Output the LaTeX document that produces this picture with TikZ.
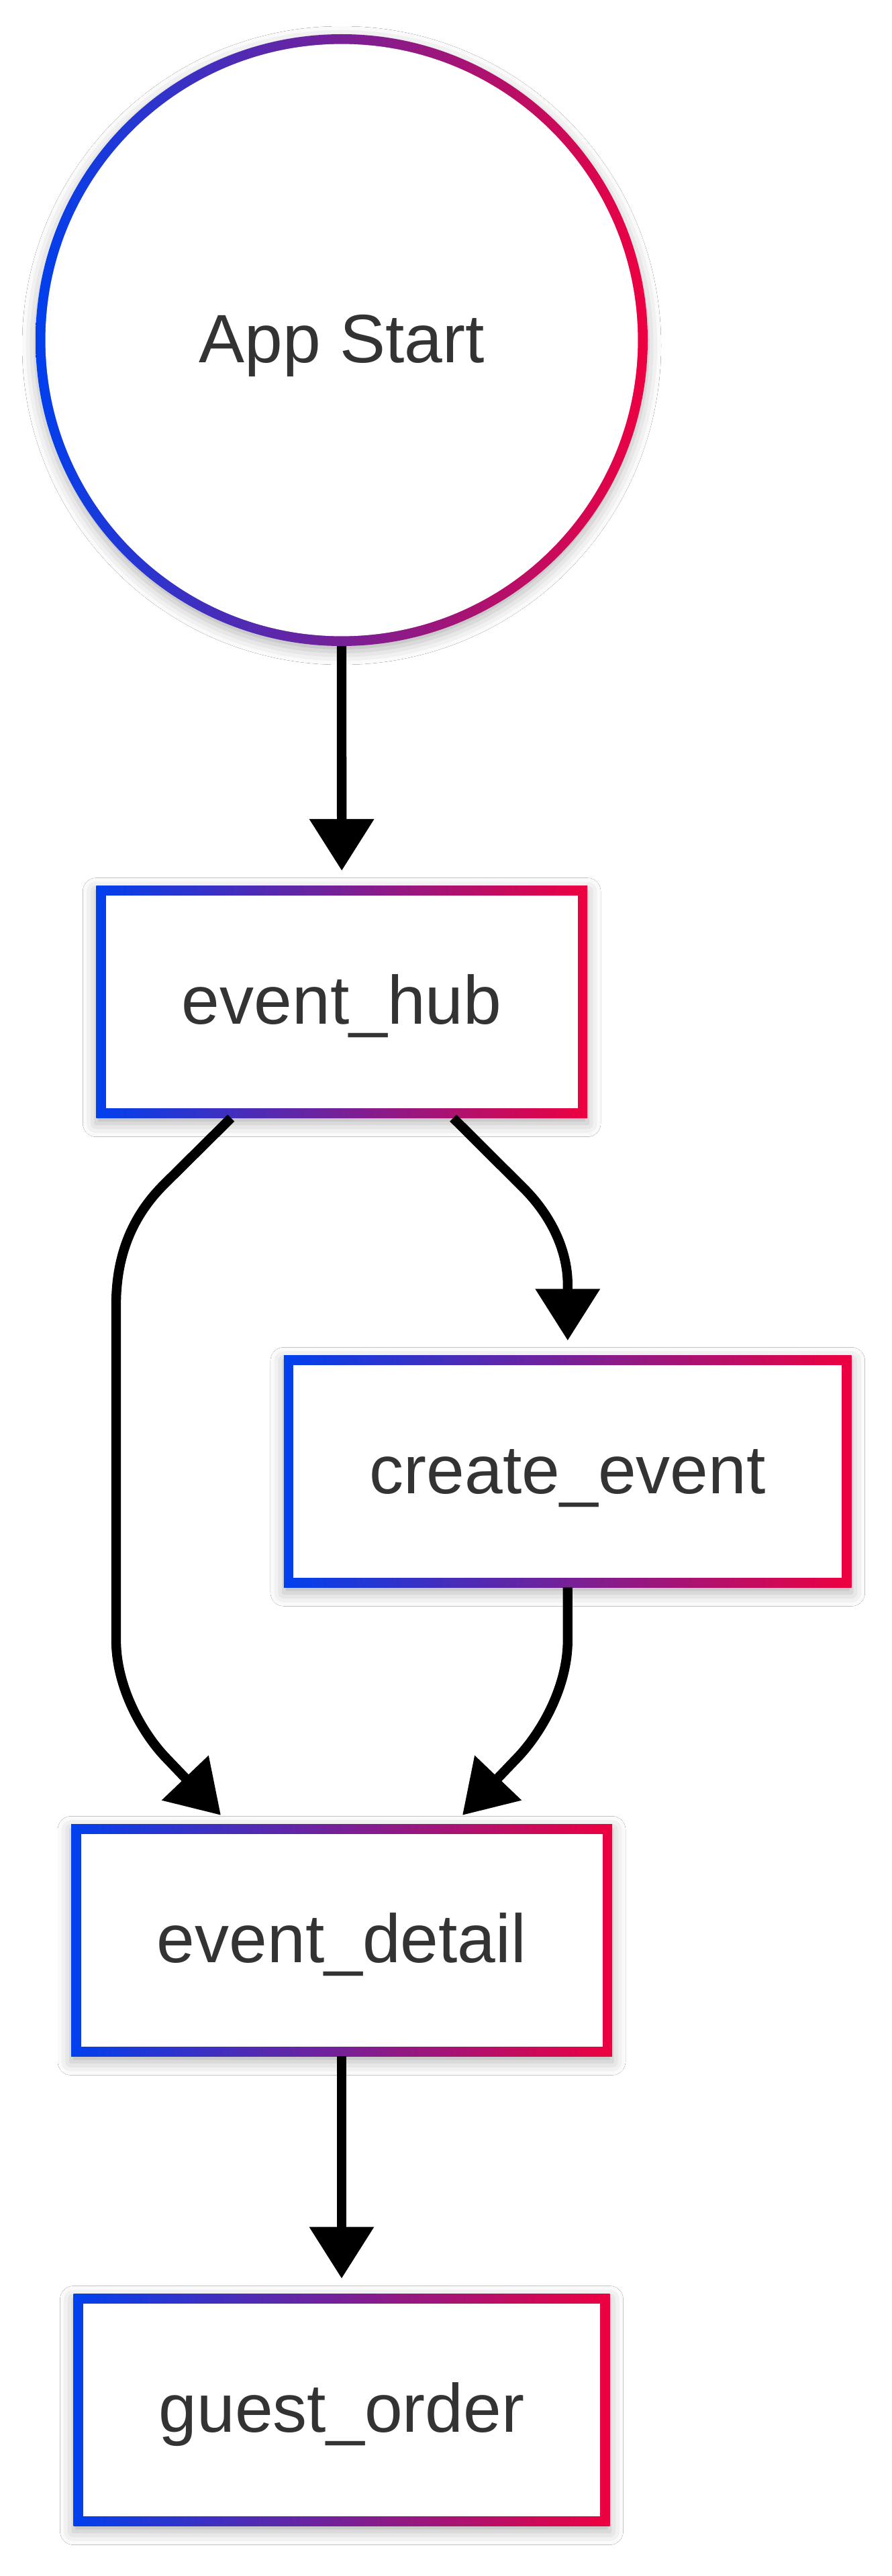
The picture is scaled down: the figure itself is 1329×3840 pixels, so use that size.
\documentclass[tikz,border=0pt]{standalone}
\usepackage{fontspec}
\setmainfont{Liberation Sans}
\usetikzlibrary{arrows.meta,calc,shadows.blur}
\definecolor{gblue}{RGB}{0,64,238}
\definecolor{gred}{RGB}{238,0,64}
\definecolor{txt}{RGB}{51,51,51}
\begin{document}
\begin{tikzpicture}[x=1pt,y=-1pt,
  gshadow/.style={blur shadow={shadow xshift=0pt,shadow yshift=-8pt,shadow blur radius=20pt,shadow opacity=30}},
  nodetext/.style={font=\fontsize{102pt}{120pt}\selectfont, text=txt, text height=70pt, text depth=4pt},
  gbox/.style={rectangle, inner sep=0pt, outer sep=0pt, minimum height=346pt,
    left color=gblue, right color=gred, gshadow, nodetext,
    path picture={\fill[white] ($(path picture bounding box.south west)+(14.5pt,14.5pt)$) rectangle ($(path picture bounding box.north east)+(-14.5pt,-14.5pt)$);}},
  gcirc/.style={circle, inner sep=0pt, outer sep=0pt, minimum size=912pt,
    left color=gblue, right color=gred, gshadow, nodetext,
    path picture={\fill[white] (path picture bounding box.center) circle[radius=441.4pt];}},
  link/.style={line width=14.3pt, -{Triangle[length=77pt,width=93pt]}, line join=round},
]
\fill[white] (0,0) rectangle (1329,3840);
\useasboundingbox (0,0) rectangle (1329,3840);

\node[gcirc] (start) at (509,507) {App Start};
\node[gbox, minimum width=731.7pt] (hub) at (509.2,1493.6) {event\_hub};
\node[gbox, minimum width=845.7pt] (create) at (845.8,2193.3) {create\_event};
\node[gbox, minimum width=806pt] (detail) at (509,2892.3) {event\_detail};
\node[gbox, minimum width=799pt] (guest) at (509,3592.5) {guest\_order};

\draw[link, shorten >=22.7pt] (start.south) -- (hub.north);
% event_hub -> event_detail (left branch)
\draw[link] ($(hub.south)+(-165,0)$) -- (244,1766)
  .. controls (198,1812) and (173,1870) .. (173,1945)
  -- (173,2445)
  .. controls (173,2515) and (212,2583) .. (246,2619)
  -- ($(detail.north)+(-180,-13.5)$);
% event_hub -> create_event
\draw[link] ($(hub.south)+(166,0)$) -- (780,1771)
  .. controls (822,1813) and (845.8,1865) .. (845.8,1915)
  -- ($(create.north)+(0,-22)$);
% create_event -> event_detail
\draw[link] (create.south) -- (845.8,2445)
  .. controls (845.8,2515) and (806,2583) .. (772,2619)
  -- ($(detail.north)+(180,-13.5)$);
\draw[link, shorten >=23pt] (detail.south) -- (guest.north);
\end{tikzpicture}
\end{document}
